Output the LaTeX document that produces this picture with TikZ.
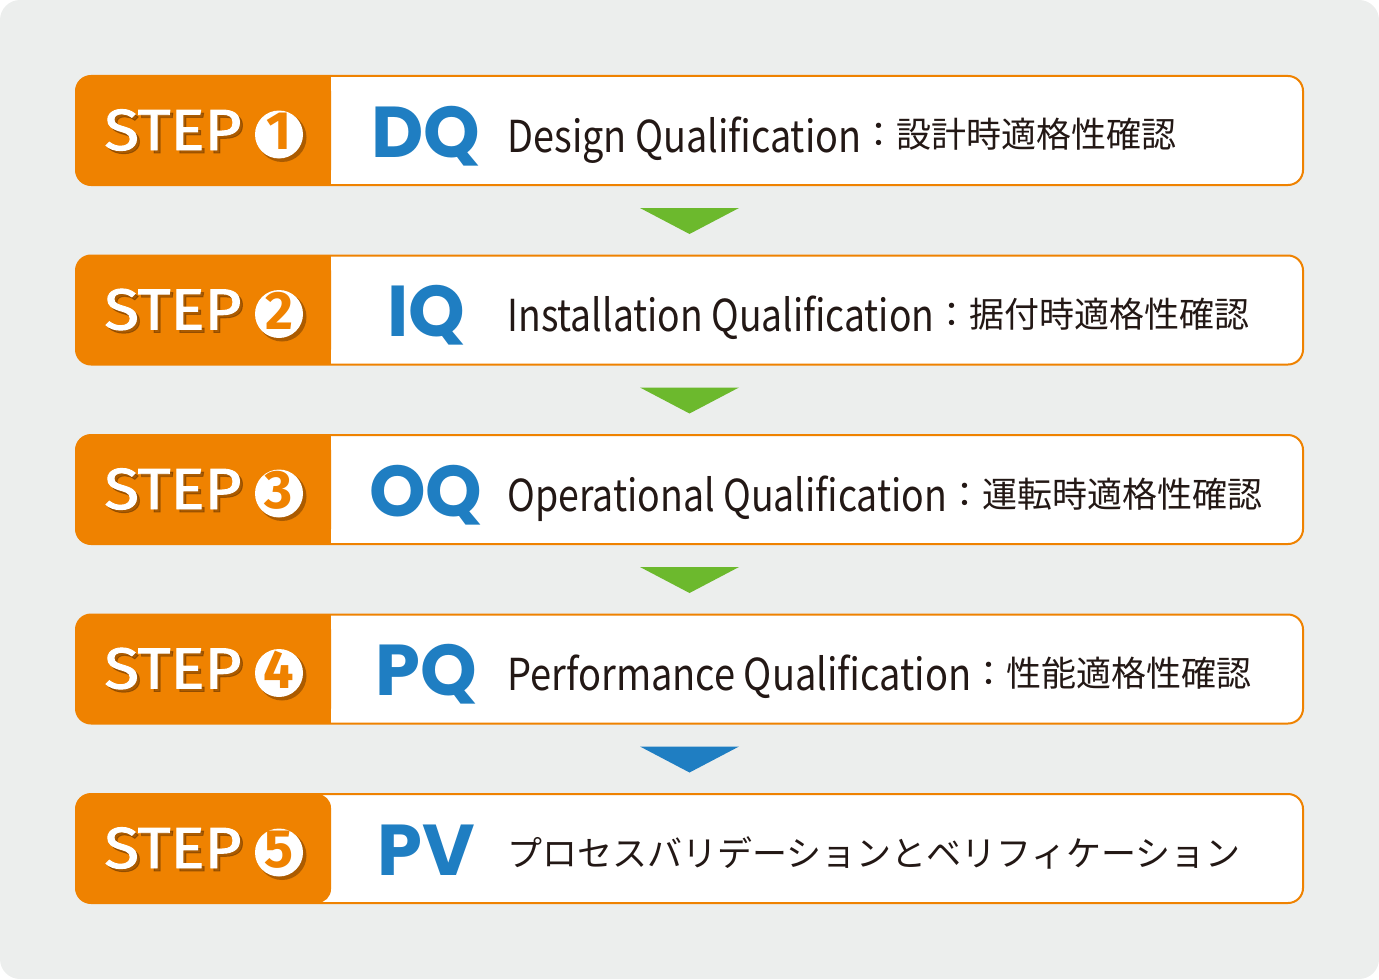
\documentclass[tikz,border=0pt]{standalone}
\usepackage{fontspec}
\usepackage{graphicx}
\usetikzlibrary{calc}
\newfontfamily\jpfont{Noto Sans CJK JP}
\newfontfamily\stepfont{Fira Sans}
\newfontfamily\stepfontm{Fira Sans}[FakeBold=1.6]
\newfontfamily\qfont{Poppins}
\definecolor{bg}{HTML}{ECEEED}
\definecolor{org}{HTML}{EF8200}
\definecolor{qblue}{HTML}{1F7EC2}
\definecolor{tgreen}{HTML}{6CB92D}
\definecolor{ink}{HTML}{231815}
\definecolor{shade}{HTML}{5A2D00}
\begin{document}
\begin{tikzpicture}[x=0.5pt,y=-0.5pt,
  rowbox/.style={draw=org, line width=1pt, fill=white, rounded corners=7.5pt,
    minimum width=613.5pt, minimum height=54.5pt, inner sep=0pt, outer sep=0pt},
  steptxt/.style={anchor=base west, inner sep=0pt, text=white,
    font=\stepfontm\fontsize{29pt}{30pt}\selectfont},
  stepshadow/.style={steptxt, text=shade, text opacity=0.45},
  numcircle/.style={circle, fill=white, minimum size=24pt, inner sep=0pt},
  numshadow/.style={circle, fill=shade, fill opacity=0.45, minimum size=24.5pt, inner sep=0pt},
  numtxt/.style={anchor=base, inner sep=0pt, text=org,
    font=\stepfont\bfseries\fontsize{27pt}{28pt}\selectfont},
  abbr/.style={anchor=base, inner sep=0pt, text=qblue,
    font=\qfont\bfseries\fontsize{36pt}{37pt}\selectfont},
  desc/.style={anchor=base west, inner sep=0pt, text=ink}
]
\useasboundingbox (0,0) rectangle (1379,979);
\fill[bg, rounded corners=10pt] (0,0) rectangle (1379,979);

\foreach \i/\ab in {1/DQ,2/IQ,3/OQ,4/PQ,5/PV}{
  \pgfmathsetmacro\cy{130.5+179.5*(\i-1)}
  \node[rowbox] (r\i) at (689.5,\cy) {};
  \ifnum\i<5
    \fill[org, rounded corners=7.5pt] (r\i.north west) rectangle ($(r\i.south west)+(255,0)$);
    \fill[org] ($(r\i.north west)+(225,0)$) rectangle ($(r\i.south west)+(255,0)$);
  \else
    \fill[org, rounded corners=7pt] (r\i.north west) rectangle ($(r\i.south west)+(255,0)$);
  \fi
  \node[stepshadow] (ss\i) at ($(r\i.west)+(31,22.5)$) {\resizebox{68.5pt}{\height}{STEP}};
  \node[steptxt] (st\i) at ($(r\i.west)+(28,19.5)$) {\resizebox{68.5pt}{\height}{STEP}};
  \node[numshadow] (cs\i) at ($(r\i.west)+(206,7)$) {};
  \node[numcircle] (c\i) at ($(r\i.west)+(203,4)$) {};
  \node[numtxt] (d\i) at ($(c\i.center)+(0,15)$) {\i};
  \node[abbr] (q\i) at ($(r\i.west)+(350,26.5)$) {\ab};
}

\foreach \i/\lat/\jp/\w in {
  1/Design Qualification/設計時適格性確認/177,
  2/Installation Qualification/据付時適格性確認/213.5,
  3/Operational Qualification/運転時適格性確認/220,
  4/Performance Qualification/性能適格性確認/232}{
  \node[desc] (t\i) at ($(r\i.west)+(431,21.5)$)
    {\resizebox{\w pt}{\height}{\jpfont\fontsize{22pt}{23pt}\selectfont\lat}\raisebox{2pt}{\jpfont\fontsize{17.5pt}{18pt}\selectfont ：\jp}};
}
\node[desc] (t5) at ($(r5.west)+(431,17.5)$)
  {\jpfont\fontsize{17.5pt}{18pt}\selectfont プロセスバリデーションとベリフィケーション};

\foreach \i/\col in {1/tgreen,2/tgreen,3/tgreen,4/qblue}{
  \fill[\col] ($(r\i.south)+(-49.5,23)$) -- ($(r\i.south)+(49.5,23)$) -- ($(r\i.south)+(0,49)$) -- cycle;
}
\end{tikzpicture}
\end{document}
